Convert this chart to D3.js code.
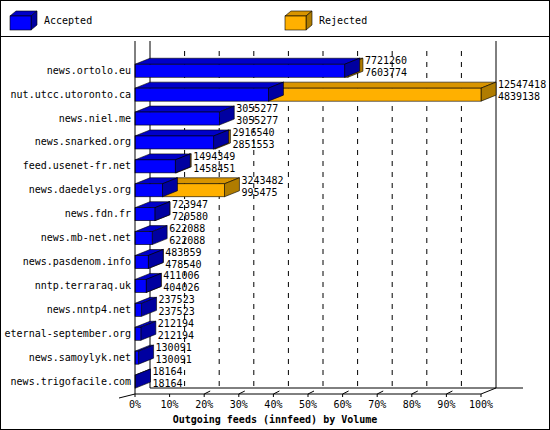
<!DOCTYPE html>
<html><head><meta charset="utf-8">
<script src="https://cdn.jsdelivr.net/npm/d3@7"></script>
<style>body{margin:0;background:#fff}text{font-family:"DejaVu Sans Mono",monospace;font-size:10px}</style>
</head><body><svg id="c" width="550" height="430"></svg>
<script>
const hosts = ["news.ortolo.eu","nut.utcc.utoronto.ca","news.niel.me","news.snarked.org","feed.usenet-fr.net","news.daedelys.org","news.fdn.fr","news.mb-net.net","news.pasdenom.info","nntp.terraraq.uk","news.nntp4.net","eternal-september.org","news.samoylyk.net","news.trigofacile.com"];
const offered = [7721260,12547418,3055277,2916540,1494349,3243482,723947,622088,483359,411006,237523,212194,130091,18164];
const accepted = [7603774,4839138,3055277,2851553,1458451,995475,720580,622088,478540,404026,237523,212194,130091,18164];
const ticks = [0,10,20,30,40,50,60,70,80,90,100];

const svg = d3.select("#c");
const dx = 15, dy = -6, bh = 13;
const x = d3.scaleLinear().domain([0, d3.max(offered)]).range([135, 481]);
const xp = d3.scaleLinear().domain([0, 100]).range([135, 481]);
const y = d3.scaleBand().domain(hosts).range([50, 396]).padding(0.47);

svg.append("rect").attr("x",0.5).attr("y",0.5).attr("width",549).attr("height",429).attr("fill","none").attr("stroke","#000");
svg.append("line").attr("x1",0).attr("x2",550).attr("y1",36.5).attr("y2",36.5).attr("stroke","#000");

function cube(g, x0, x1, yt, h, front, top, side, ddx = dx, ddy = dy) {
  g.append("polygon").attr("points",`${x0},${yt} ${x0+ddx},${yt+ddy} ${x1+ddx},${yt+ddy} ${x1},${yt}`).attr("fill",top).attr("stroke","#000").attr("stroke-width",0.6);
  g.append("polygon").attr("points",`${x1},${yt} ${x1+ddx},${yt+ddy} ${x1+ddx},${yt+h+ddy} ${x1},${yt+h}`).attr("fill",side).attr("stroke","#000").attr("stroke-width",0.6);
  g.append("rect").attr("x",x0).attr("y",yt).attr("width",x1-x0).attr("height",h).attr("fill",front).attr("stroke","#000").attr("stroke-width",0.6);
}
const blue = ["#0000ff","#0000c8","#0000a0"], orange = ["#ffb000","#d89400","#b07c00"];

// legend
[[10,"Accepted",blue],[285,"Rejected",orange]].forEach(([lx,t,c])=>{
  const g = svg.append("g");
  cube(g, lx, lx+21, 16, 14, c[0], c[1], c[2], 6, -5);
  g.append("text").attr("x",lx+34).attr("y",24).text(t);
});

// back walls and grid
const back = 388, front = 394, topY = 41;
svg.append("line").attr("x1",135+dx).attr("x2",135+dx).attr("y1",topY).attr("y2",back).attr("stroke","#000");
svg.append("line").attr("x1",481+dx).attr("x2",481+dx).attr("y1",topY).attr("y2",back).attr("stroke","#000");
svg.append("line").attr("x1",135+dx).attr("x2",523).attr("y1",back).attr("y2",back).attr("stroke","#000");
ticks.slice(1,10).forEach(t=>{
  svg.append("line").attr("x1",xp(t)+dx).attr("x2",xp(t)+dx).attr("y1",topY+10).attr("y2",back)
    .attr("stroke","#000").attr("stroke-dasharray","5,6");
});

// bars
hosts.forEach((h,i)=>{
  const yt = y(h) + 3;
  const g = svg.append("g");
  if (offered[i] > accepted[i]) cube(g, x(accepted[i]), x(offered[i]), yt, bh, orange[0], orange[1], orange[2]);
  cube(g, x(0), x(accepted[i]), yt, bh, blue[0], blue[1], blue[2]);
  const tx = x(offered[i]) + dx + 2;
  g.append("text").attr("x",tx).attr("y",yt).text(offered[i]);
  g.append("text").attr("x",tx).attr("y",yt+12).text(accepted[i]);
  svg.append("text").attr("x",131).attr("y",yt+bh/2+3).attr("text-anchor","end").text(h);
});

// front axis
svg.append("line").attr("x1",135).attr("x2",135).attr("y1",topY).attr("y2",front).attr("stroke","#000");
svg.append("path").attr("d",`M119,398 L135,${front} L481,${front} L${481+dx},${back}`).attr("fill","none").attr("stroke","#000");
ticks.forEach(t=>{
  const tx = xp(t);
  svg.append("line").attr("x1",tx).attr("x2",tx).attr("y1",front).attr("y2",front+3).attr("stroke","#000");
  if (t > 10 && t < 100) svg.append("line").attr("x1",tx).attr("x2",tx+6).attr("y1",front).attr("y2",front-3).attr("stroke","#000");
  svg.append("text").attr("x",tx).attr("y",front+14).attr("text-anchor","middle").text(t+"%");
});
svg.append("text").attr("x",275).attr("y",423).attr("text-anchor","middle").attr("font-weight","bold").text("Outgoing feeds (innfeed) by Volume");
</script></body></html>
